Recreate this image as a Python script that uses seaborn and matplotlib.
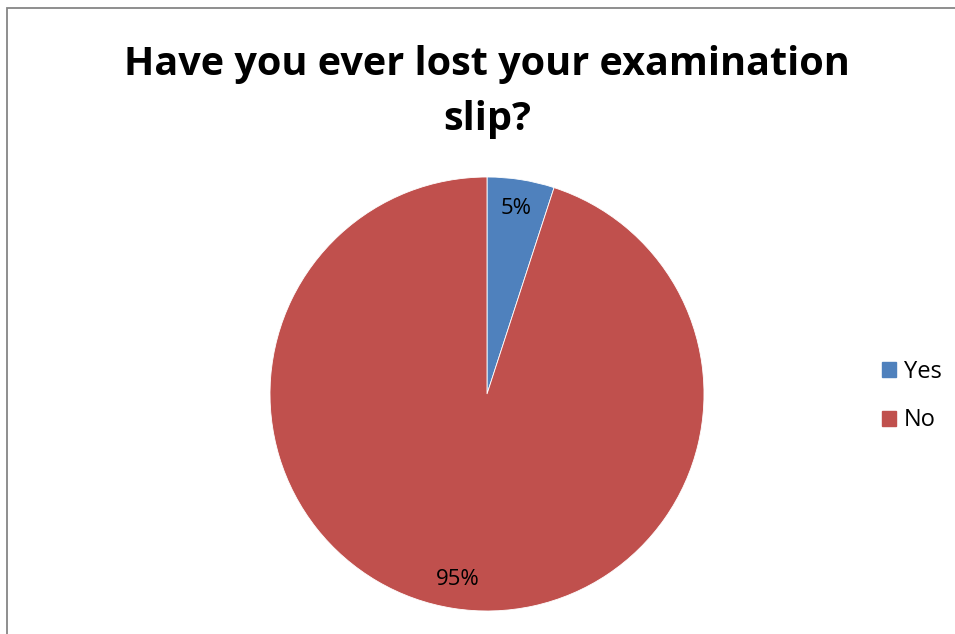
import matplotlib
matplotlib.use("Agg")
import matplotlib.pyplot as plt
import matplotlib.patches as mpatches
import seaborn as sns

title = "Have you ever lost your examination\nslip?"
categories = ["Yes", "No"]
values = [5, 95]
colors = ["#4F81BD", "#C0504D"]

sns.set_theme(style="white")
plt.rcParams['font.family'] = ['Open Sans', 'DejaVu Sans']
plt.rcParams['text.color'] = 'black'

W, H = 955, 634
fig = plt.figure(figsize=(W / 100, H / 100), dpi=100)

# outer border (gray, cropped at right/bottom)
fig.patches.append(mpatches.Rectangle((6.5 / W, -0.1), 1.2, 1 - 7.5 / H + 0.1,
                                      transform=fig.transFigure, fill=False,
                                      edgecolor="#868686", linewidth=1.3))

cx, cy, r = 487, 394, 217
ax = fig.add_axes([(cx - r) / W, 1 - (cy + r) / H, 2 * r / W, 2 * r / H])
wedges, texts, autotexts = ax.pie(values, colors=colors, startangle=90, counterclock=False,
                                  autopct=lambda p: f"{p:.0f}%", pctdistance=0.865,
                                  wedgeprops=dict(linewidth=0.6, edgecolor="white"),
                                  textprops=dict(fontsize=16, color="black"))
ax.set_xlim(-1, 1)
ax.set_ylim(-1, 1)
ax.set_aspect("equal")
ax.axis("off")

fig.text(487 / W, 1 - 92 / H, title, ha="center", va="center", fontsize=28.5,
         fontweight="bold", linespacing=1.55, color="black")

handles = [mpatches.Patch(color=c, label=l) for c, l in zip(colors, categories)]
leg = fig.legend(handles=handles, loc="center left", bbox_to_anchor=(861 / W, 1 - 396 / H),
                 frameon=False, fontsize=17, handlelength=0.6, handleheight=0.6,
                 handletextpad=0.3, labelspacing=1.05)
for t in leg.get_texts():
    t.set_color("black")

fig.savefig("out.png", dpi=100, facecolor="white")
